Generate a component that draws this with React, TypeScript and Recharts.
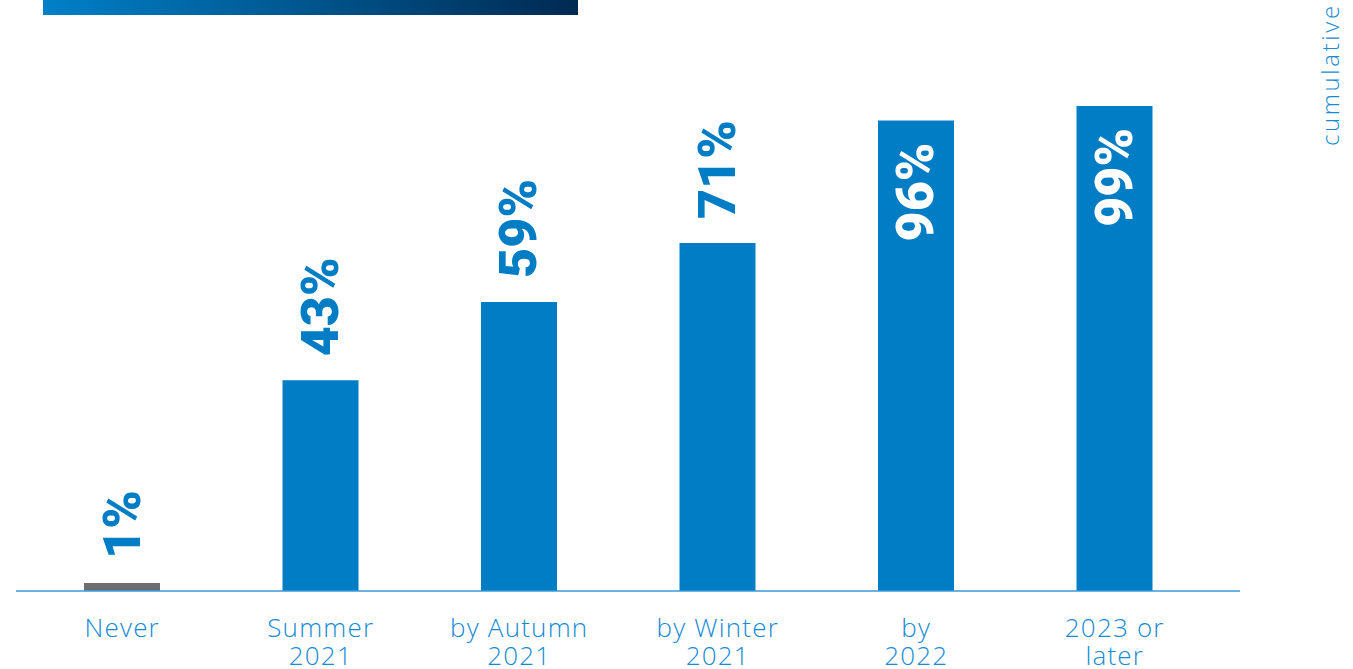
import React from 'react';
import { BarChart, Bar, XAxis, YAxis, LabelList, Cell } from 'recharts';

const categories = ['Never', 'Summer 2021', 'by Autumn 2021', 'by Winter 2021', 'by 2022', '2023 or later'];
const tickLines: string[][] = [
  ['Never'],
  ['Summer', '2021'],
  ['by Autumn', '2021'],
  ['by Winter', '2021'],
  ['by', '2022'],
  ['2023 or', 'later'],
];
const values = [1, 43, 59, 71, 96, 99];
const sideLabel = 'cumulative';

const data = categories.map((c, i) => ({ name: c, value: values[i] }));

const BLUE = '#007dc5';
const GRAY = '#6d6e71';
const TEXT_BLUE = '#168bd4';

const Tick = (props: any) => {
  const { x, y, payload } = props;
  const idx = categories.indexOf(payload.value);
  const lines = tickLines[idx] || [payload.value];
  return (
    <text
      x={x}
      y={y}
      textAnchor="middle"
      fill={TEXT_BLUE}
      fontFamily="'Open Sans', sans-serif"
      fontWeight={300}
      fontSize={26}
      letterSpacing={1.2}
    >
      {lines.map((l, i) => (
        <tspan key={i} x={x} y={y + 38 + i * 28}>
          {l}
        </tspan>
      ))}
    </text>
  );
};

const ValueLabel = (props: any) => {
  const { x, y, width, value } = props;
  const cx = x + width / 2;
  const inside = value >= 90;
  const ty = inside ? y + 22 : y - 24;
  return (
    <text
      x={cx}
      y={ty}
      transform={`rotate(-90 ${cx} ${ty})`}
      textAnchor={inside ? 'end' : 'start'}
      dominantBaseline="central"
      fill={inside ? '#ffffff' : BLUE}
      fontFamily="Roboto, sans-serif"
      fontWeight={900}
      fontSize={52}
    >
      {`${value}%`}
    </text>
  );
};

export default function App() {
  return (
    <div style={{ position: 'absolute', left: 0, top: 0, width: 1353, height: 669, background: '#fff' }}>
      <svg width={1353} height={669} style={{ position: 'absolute', left: 0, top: 0 }}>
        <defs>
          <linearGradient id="topGrad" x1="0" y1="0" x2="1" y2="0">
            <stop offset="0%" stopColor="#0080c8" />
            <stop offset="100%" stopColor="#002a52" />
          </linearGradient>
        </defs>
        <rect x={43} y={0} width={535} height={15} fill="url(#topGrad)" />
        <text
          x={1329}
          y={146}
          transform="rotate(-90 1329 146)"
          textAnchor="start"
          dominantBaseline="central"
          fill={TEXT_BLUE}
          fontFamily="'Open Sans', sans-serif"
          fontWeight={300}
          fontSize={24}
          letterSpacing={2.6}
        >
          {sideLabel}
        </text>
      </svg>
      <div style={{ position: 'absolute', left: 0, top: 0 }}>
        <BarChart
          width={1353}
          height={669}
          data={data}
          margin={{ top: 101, right: 113, left: 16, bottom: 0 }}
        >
          <XAxis
            dataKey="name"
            height={78}
            tickLine={false}
            axisLine={{ stroke: '#3a9ad9', strokeWidth: 1.5 }}
            padding={{ left: 7, right: 26 }}
            tick={<Tick />}
            interval={0}
          />
          <YAxis hide domain={[0, 100]} />
          <Bar dataKey="value" barSize={76} minPointSize={8} isAnimationActive={false}>
            {data.map((d, i) => (
              <Cell key={i} fill={d.name === 'Never' ? GRAY : BLUE} />
            ))}
            <LabelList dataKey="value" content={<ValueLabel />} />
          </Bar>
        </BarChart>
      </div>
    </div>
  );
}
